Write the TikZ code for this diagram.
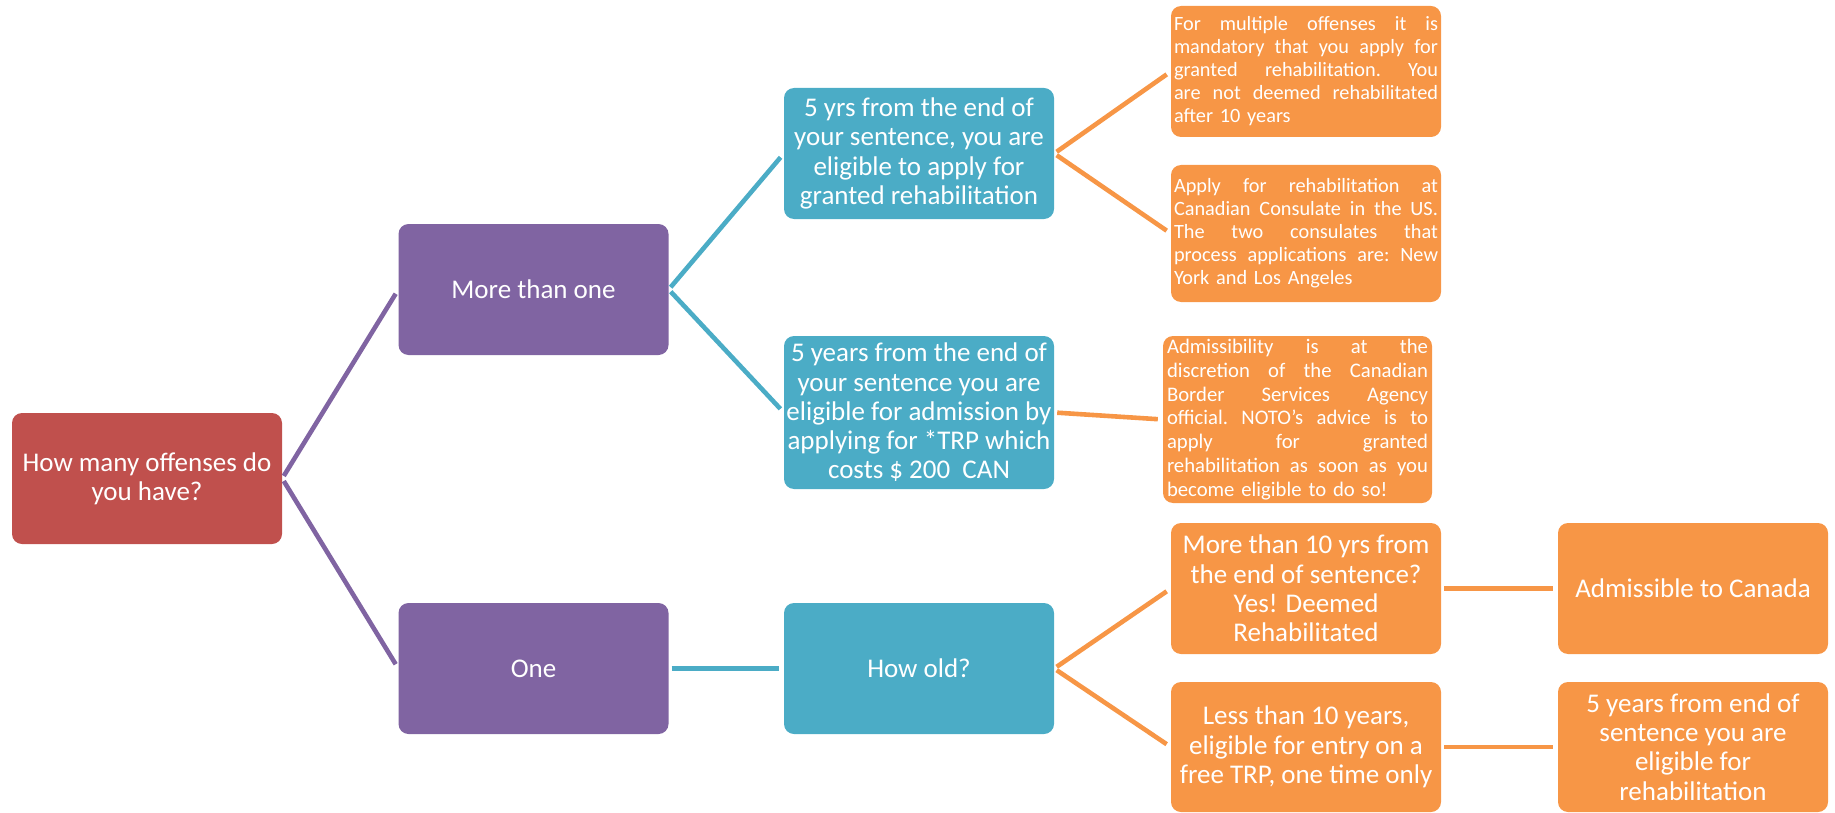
\documentclass[tikz,border=0pt]{standalone}
\usepackage{fontspec}
\setmainfont{Carlito}
\definecolor{cred}{HTML}{C0504D}
\definecolor{cpur}{HTML}{8064A2}
\definecolor{cblu}{HTML}{4BACC6}
\definecolor{cora}{HTML}{F79646}
\newcommand{\jl}[2][264pt]{\leavevmode\hbox to #1{\spaceskip=0.22em plus 1fil minus 0.05em\relax\xspaceskip=\spaceskip #2}}
\begin{document}
\begin{tikzpicture}[x=1pt,y=-1pt,
  box/.style={rounded corners=10pt, minimum width=270pt, minimum height=131pt, inner sep=0pt, text=white, align=center, font=\fontsize{27}{29.3}\selectfont},
  small/.style={box, align=left, text width=264pt, font=\fontsize{20.3}{23}\selectfont},
  conn/.style={line width=4.6pt, shorten <=3pt, shorten >=5pt}]
\useasboundingbox (0,0) rectangle (1835,813);
% nodes
\node[box, fill=cred] (r) at (147,478.5) {How many offenses do\\you have?};
\node[box, fill=cpur] (p1) at (533.5,289.5) {More than one};
\node[box, fill=cpur] (p2) at (533.5,668.5) {One};
\node[box, fill=cblu] (b1) at (919,153.5) {5 yrs from the end of\\your sentence, you are\\eligible to apply for\\granted rehabilitation};
\node[box, fill=cblu, minimum height=153pt] (b2) at (919,412.5) {5 years from the end of\\your sentence you are\\eligible for admission by\\applying for *TRP which\\costs \$ 200\ \ CAN};
\node[box, fill=cblu] (b3) at (919,668.5) {How old?};
\node[small, fill=cora] (o1) at (1306,71.5) {\jl{For multiple offenses it is}\\\jl{mandatory that you apply for}\\\jl{granted rehabilitation. You}\\\jl{are not deemed rehabilitated}\\after 10 years};
\node[small, fill=cora, minimum height=137pt] (o2) at (1306,233.5) {\jl{Apply for rehabilitation at}\\\jl{Canadian Consulate in the US.}\\\jl{The two consulates that}\\\jl{process applications are: New}\\York and Los Angeles};
\node[small, fill=cora, minimum width=269pt, minimum height=167pt, text width=261pt, font=\fontsize{20.7}{23.8}\selectfont] (o3) at (1297.5,419.5) {\jl[261pt]{Admissibility is at the}\\\jl[261pt]{discretion of the Canadian}\\\jl[261pt]{Border Services Agency}\\\jl[261pt]{official. NOTO’s advice is to}\\\jl[261pt]{apply for granted}\\\jl[261pt]{rehabilitation as soon as you}\\become eligible to do so!};
\node[box, fill=cora] (o4) at (1306,588.5) {More than 10 yrs from\\the end of sentence?\\Yes! Deemed\\Rehabilitated};
\node[box, fill=cora, minimum height=130pt] (o5) at (1306,747) {Less than 10 years,\\eligible for entry on a\\free TRP, one time only};
\node[box, fill=cora] (o6) at (1693,588.5) {Admissible to Canada};
\node[box, fill=cora, minimum height=130pt] (o7) at (1693,747) {5 years from end of\\sentence you are\\eligible for\\rehabilitation};
% connectors
\draw[conn, cpur] (r.east) -- (p1.west);
\draw[conn, cpur] (r.east) -- (p2.west);
\draw[conn, cblu] (p1.east) -- (b1.west);
\draw[conn, cblu] (p1.east) -- (b2.west);
\draw[conn, cblu] (p2.east) -- (b3.west);
\draw[conn, cora] (b1.east) -- (o1.west);
\draw[conn, cora] (b1.east) -- (o2.west);
\draw[conn, cora] (b2.east) -- (o3.west);
\draw[conn, cora] (b3.east) -- (o4.west);
\draw[conn, cora] (b3.east) -- (o5.west);
\draw[conn, cora] (o4.east) -- (o6.west);
\draw[conn, cora] (o5.east) -- (o7.west);
\end{tikzpicture}
\end{document}
